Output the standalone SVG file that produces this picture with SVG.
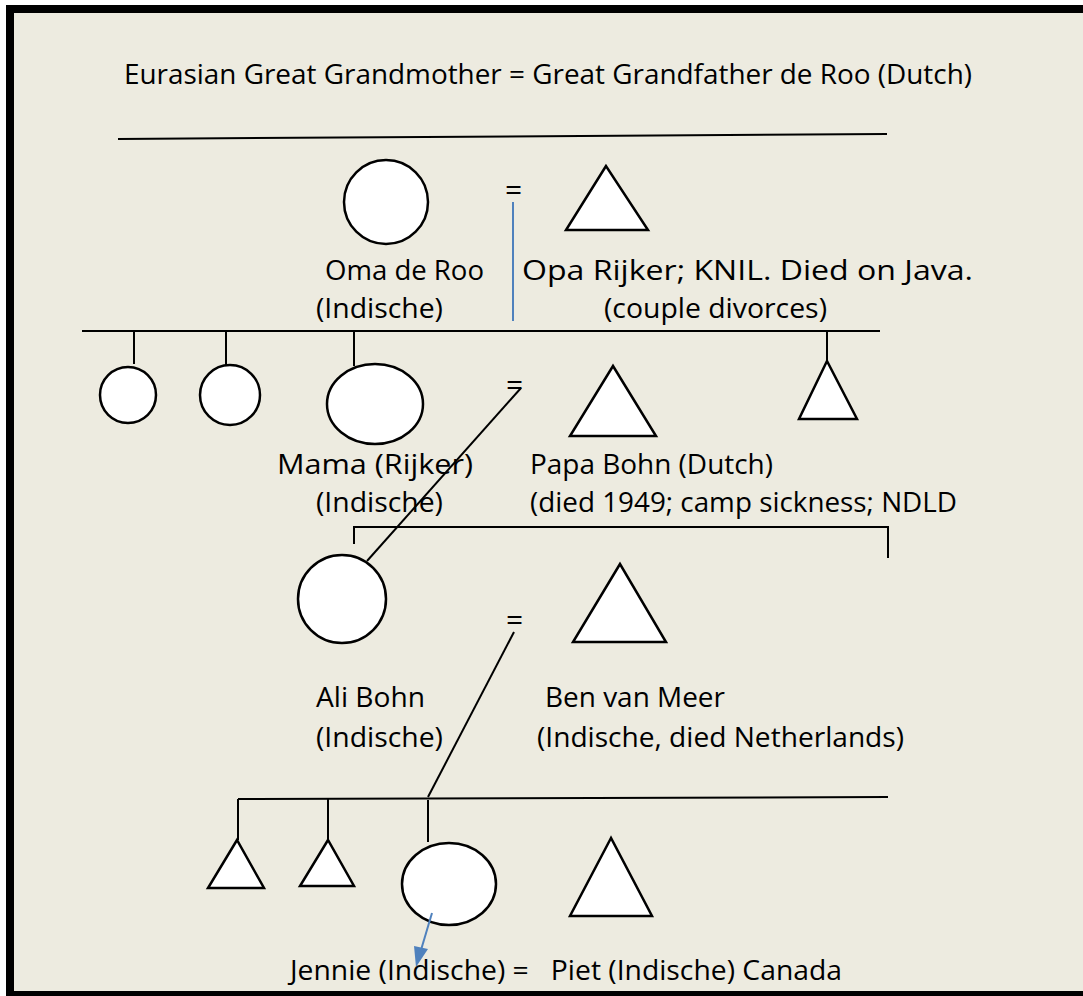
<svg xmlns="http://www.w3.org/2000/svg" width="1083" height="996" viewBox="0 0 1083 996">
<defs>
<style>
.t{font-family:"Open Sans","Noto Sans","Liberation Sans",sans-serif;font-size:27px;fill:#000;}
.e{font-family:"Open Sans","Noto Sans","Liberation Sans",sans-serif;font-size:30px;fill:#000;}
.s{fill:#fff;stroke:#000;stroke-width:2.5;}
.l{fill:none;stroke:#000;stroke-width:2;}
.b{fill:none;stroke:#4F81BD;stroke-width:2;}
.ah{fill:#4F81BD;stroke:none;}
</style>
</defs>
<rect x="0" y="0" width="1083" height="996" fill="#fff"/>
<rect x="10" y="9" width="1080" height="986" fill="#EDEBE0" stroke="#000" stroke-width="8"/>

<g id="title"><text class="t" x="124" y="84" textLength="848" lengthAdjust="spacingAndGlyphs">Eurasian Great Grandmother = Great Grandfather de Roo (Dutch)</text></g>

<g id="oma"><circle class="s" cx="386" cy="202" r="42"/>
<text class="t" x="325" y="280" textLength="159" lengthAdjust="spacingAndGlyphs">Oma de Roo</text>
<text class="t" x="316" y="318" textLength="127" lengthAdjust="spacingAndGlyphs">(Indische)</text></g>
<g id="eq1"><text class="e" x="505" y="200">=</text></g>
<g id="opa"><polygon class="s" points="606,166 566,230 648,230"/>
<text class="t" x="522" y="280" textLength="451" lengthAdjust="spacingAndGlyphs">Opa Rijker; KNIL. Died on Java.</text>
<text class="t" x="604" y="318" textLength="223" lengthAdjust="spacingAndGlyphs">(couple divorces)</text></g>

<g id="sib1"><circle class="s" cx="128" cy="395" r="28"/></g>
<g id="sib2"><circle class="s" cx="230" cy="395" r="30"/></g>
<g id="mama"><ellipse class="s" cx="375" cy="404" rx="48" ry="40"/>
<text class="t" x="277" y="474" textLength="196" lengthAdjust="spacingAndGlyphs">Mama (Rijker)</text>
<text class="t" x="316" y="512" textLength="127" lengthAdjust="spacingAndGlyphs">(Indische)</text></g>
<g id="sib3"><polygon class="s" points="827,361 799,419 857,419"/></g>
<g id="eq2"><text class="e" x="506" y="395">=</text></g>
<g id="papa"><polygon class="s" points="613,366 570,436 656,436"/>
<text class="t" x="530" y="474" textLength="243" lengthAdjust="spacingAndGlyphs">Papa Bohn (Dutch)</text>
<text class="t" x="530" y="512" textLength="427" lengthAdjust="spacingAndGlyphs">(died 1949; camp sickness; NDLD</text></g>

<g id="ali"><circle class="s" cx="342" cy="599" r="44"/>
<text class="t" x="316" y="707" textLength="109" lengthAdjust="spacingAndGlyphs">Ali Bohn</text>
<text class="t" x="316" y="747" textLength="127" lengthAdjust="spacingAndGlyphs">(Indische)</text></g>
<g id="eq3"><text class="e" x="506" y="630">=</text></g>
<g id="ben"><polygon class="s" points="620,564 573,642 666,642"/>
<text class="t" x="545" y="707" textLength="180" lengthAdjust="spacingAndGlyphs">Ben van Meer</text>
<text class="t" x="537" y="747" textLength="367" lengthAdjust="spacingAndGlyphs">(Indische, died Netherlands)</text></g>

<g id="child1"><polygon class="s" points="237,840 208,888 264,888"/></g>
<g id="child2"><polygon class="s" points="328,840 300,886 354,886"/></g>
<g id="jennie"><ellipse class="s" cx="449" cy="884" rx="47" ry="41"/></g>
<g id="piet"><polygon class="s" points="611,838 570,916 652,916"/></g>
<g id="bottom"><text class="t" x="290" y="980" textLength="552" lengthAdjust="spacingAndGlyphs" xml:space="preserve">Jennie (Indische) =   Piet (Indische) Canada</text></g>

<g id="connectors">
<line class="l" x1="118" y1="139" x2="887" y2="134"/>
<line class="b" x1="513" y1="202" x2="513" y2="321"/>
<line class="l" x1="82" y1="331" x2="880" y2="331"/>
<line class="l" x1="134" y1="331" x2="134" y2="364"/>
<line class="l" x1="226" y1="331" x2="226" y2="365"/>
<line class="l" x1="354" y1="331" x2="354" y2="366"/>
<line class="l" x1="827" y1="331" x2="827" y2="362"/>
<line class="l" x1="521" y1="388" x2="367" y2="561"/>
<polyline class="l" points="354,544 354,527 888,527 888,558"/>
<line class="l" x1="514" y1="632" x2="428" y2="797"/>
<line class="l" x1="238" y1="799" x2="888" y2="797"/>
<line class="l" x1="238" y1="799" x2="238" y2="840"/>
<line class="l" x1="328" y1="798" x2="328" y2="841"/>
<line class="l" x1="428" y1="800" x2="428" y2="842"/>
<line class="b" x1="432" y1="913" x2="421" y2="950"/>
<polygon class="ah" points="416,967 428,949 414,946"/>
</g>
</svg>
